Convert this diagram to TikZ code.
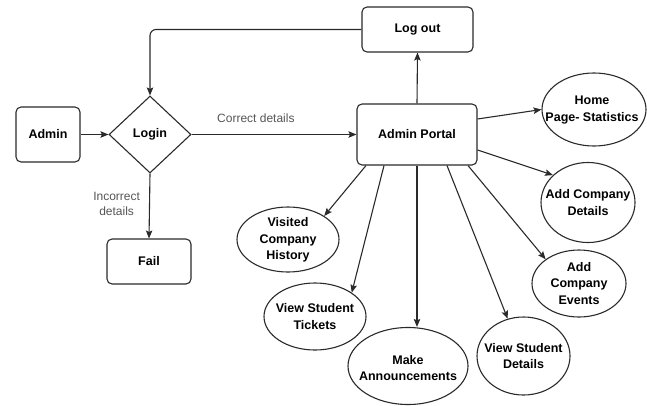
\documentclass[tikz,border=0pt]{standalone}
\usepackage{fontspec}
\setmainfont{Liberation Sans}
\usetikzlibrary{shapes.geometric,arrows.meta}
\definecolor{edge}{HTML}{2A2A2A}
\definecolor{lblgray}{HTML}{555555}
\tikzset{
  base/.style={draw=edge, line width=1.1pt, font=\fontsize{12.5}{16.5}\selectfont\bfseries, align=center, inner sep=0pt},
  rbox/.style={base, rectangle, rounded corners=5pt},
  dbox/.style={base, diamond},
  eshape/.style={draw=edge, line width=1.1pt, ellipse, inner sep=0pt},
  etext/.style={font=\fontsize{12.5}{16.5}\selectfont\bfseries, align=center, inner sep=0pt},
  arr/.style={draw=edge, line width=1.1pt, -{Stealth[length=8pt,width=6.5pt,inset=1.5pt]}},
  lbl/.style={font=\fontsize{12}{15.5}\selectfont, text=lblgray, inner sep=0pt, align=center}
}
\begin{document}
\begin{tikzpicture}[x=1pt,y=-1pt]
\useasboundingbox (0,0) rectangle (647,405);
\node[rbox, minimum width=64pt, minimum height=55pt] (admin) at (48,134.5) {Admin};
\node[dbox, minimum width=82pt, minimum height=77pt] (login) at (150,134.5) {Login};
\node[rbox, minimum width=84pt, minimum height=45pt] (fail) at (149,261.5) {Fail};
\node[rbox, minimum width=111pt, minimum height=45pt] (logout) at (417.5,29.5) {Log out};
\node[rbox, minimum width=120pt, minimum height=61pt] (portal) at (417,134.5) {Admin Portal};

\node[eshape, minimum width=104pt, minimum height=73pt] (home) at (594,109.5) {};
\node[etext] (home-t) at (592,110) {Home\\Page- Statistics};
\node[eshape, minimum width=94pt, minimum height=80pt] (acd) at (588,202.5) {};
\node[etext] (acd-t) at (588,202.5) {Add Company\\Details};
\node[eshape, minimum width=94pt, minimum height=67pt] (ace) at (579,283.5) {};
\node[etext] (ace-t) at (579,283.5) {Add\\Company\\Events};
\node[eshape, minimum width=93pt, minimum height=78pt] (vsd) at (523.5,356) {};
\node[etext] (vsd-t) at (523.5,356) {View Student\\Details};
\node[eshape, minimum width=120pt, minimum height=77pt] (make) at (408,366) {};
\node[etext] (make-t) at (408,368) {Make\\Announcements};
\node[eshape, minimum width=102pt, minimum height=67pt] (vst) at (315,316.5) {};
\node[etext] (vst-t) at (315,316.5) {View Student\\Tickets};
\node[eshape, minimum width=102pt, minimum height=65pt] (vch) at (288,239.5) {};
\node[etext] (vch-t) at (288,240) {Visited\\Company\\History};

\draw[arr] (admin.east) -- (login.west);
\draw[arr] (login.east) -- node[lbl, pos=0.39, yshift=16pt] {Correct details} (portal.west);
\draw[arr] (login.south) -- node[lbl, pos=0.47, anchor=east, xshift=-9pt] {Incorrect\\details} (fail.north);
\draw[arr] (portal.north) -- (logout.south);
\draw[arr, rounded corners=6pt] (logout.west) -| (login.north);
\draw[arr] ([yshift=15.5pt]portal.east) -- (home.west);
\draw[arr] ([yshift=-15.5pt]portal.east) -- (acd.142);
\draw[arr] ([xshift=51pt]portal.south) -- (ace.144);
\draw[arr] ([xshift=30pt]portal.south) -- (vsd.113);
\draw[arr] (portal.south) -- (portal.south |- make.north);
\draw[arr] ([xshift=-33pt]portal.south) -- (vst.33);
\draw[arr] ([xshift=-51pt]portal.south) -- (vch.33);
\end{tikzpicture}
\end{document}
